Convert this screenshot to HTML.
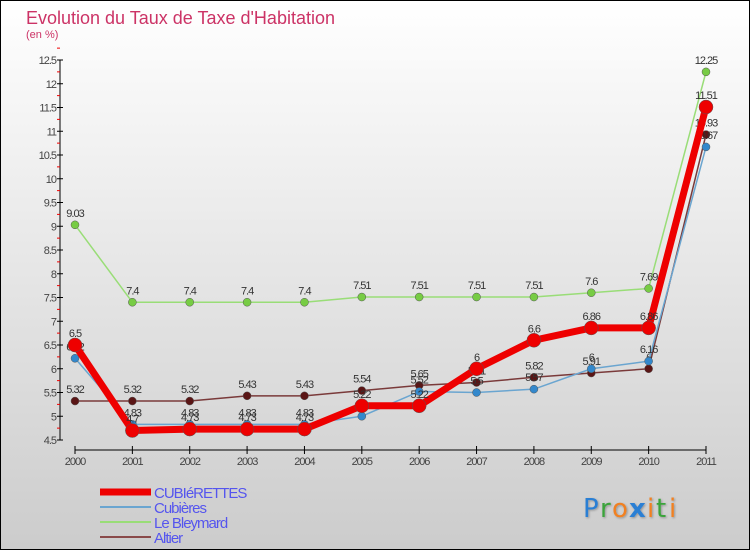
<!DOCTYPE html>
<html><head><meta charset="utf-8"><style>
html,body{margin:0;padding:0}
body{width:750px;height:550px;overflow:hidden;font-family:"Liberation Sans",sans-serif}
</style></head><body>
<svg id="chart" width="750" height="550" xmlns="http://www.w3.org/2000/svg">
<defs><linearGradient id="bg" x1="0" y1="0" x2="0" y2="1"><stop offset="0" stop-color="#ffffff"/><stop offset="1" stop-color="#cccccc"/></linearGradient>
<filter id="sh"><feDropShadow dx="1" dy="1" stdDeviation="1" flood-opacity="0.3"/></filter></defs>
<rect x="0.5" y="0.5" width="749" height="549" fill="url(#bg)" stroke="#000"/>
<text x="26" y="24" font-size="18" fill="#cc3366">Evolution du Taux de Taxe d'Habitation</text>
<text x="26" y="38" font-size="11" fill="#cc3366">(en %)</text>
<g id="axes"></g><g id="series"></g><g id="legend"></g>
<g font-size="26" font-family="DejaVu Sans, sans-serif" filter="url(#sh)">
<text x="583" y="517" fill="#2a7fd4">P</text><text x="600" y="517" fill="#3aa33a">r</text><text x="612" y="517" fill="#f08020">o</text><text x="629" y="517" fill="#2a7fd4" font-weight="bold">x</text><text x="647" y="517" fill="#f08020">i</text><text x="656" y="517" fill="#3aa33a">t</text><text x="669" y="517" fill="#f08020">i</text></g>
</svg>
<script>
const years=["2000","2001","2002","2003","2004","2005","2006","2007","2008","2009","2010","2011"];
const cubierettes=[6.5,4.7,4.73,4.73,4.73,5.22,5.22,6,6.6,6.86,6.86,11.51];
const cubieres=[6.22,4.83,4.83,4.83,4.83,5.0,5.52,5.5,5.57,6,6.16,10.67];
const bleymard=[9.03,7.4,7.4,7.4,7.4,7.51,7.51,7.51,7.51,7.6,7.69,12.25];
const altier=[5.32,5.32,5.32,5.43,5.43,5.54,5.65,5.71,5.82,5.91,6.0,10.93];
const yTicks=["4.5","5","5.5","6","6.5","7","7.5","8","8.5","9","9.5","10","10.5","11","11.5","12","12.5"];
const NS="http://www.w3.org/2000/svg";
const X=i=>75+i*(706-75)/11, Y=v=>440-(v-4.5)*47.5;
function mk(t,a,p){const e=document.createElementNS(NS,t);for(const k in a)e.setAttribute(k,a[k]);p.appendChild(e);return e;}
const ax=document.getElementById('axes');
let yl=mk('line',{x1:60,y1:60,x2:60,y2:440,stroke:'#000'},ax);

yTicks.forEach(t=>{const v=parseFloat(t),y=Y(v);
 mk('line',{x1:57,y1:y,x2:63,y2:y,stroke:'#000'},ax);
 mk('line',{x1:57,y1:Y(v+0.25),x2:60,y2:Y(v+0.25),stroke:'#e00'},ax);
 const tx=mk('text',{x:56,y:y+4,'font-size':11,'text-anchor':'end',fill:'#444','letter-spacing':'-1'},ax);tx.textContent=t;
 });
let xl=mk('line',{x1:75,y1:450,x2:706,y2:450,stroke:'#000'},ax);

years.forEach((yr,i)=>{mk('line',{x1:X(i),y1:446,x2:X(i),y2:454,stroke:'#000'},ax);
 const tx=mk('text',{x:X(i),y:465,'font-size':11,'text-anchor':'middle',fill:'#444','letter-spacing':'-1'},ax);tx.textContent=yr;
 });
const sg=document.getElementById('series');
const defs=[["altier",altier,"#7a3a3a","#5a1515",1.5,4],["le-bleymard",bleymard,"#99dd77","#77cc44",1.5,4],["cubieres",cubieres,"#6aa5d0","#3388cc",1.5,4],["cubierettes",cubierettes,"#ee0000","#ee0000",7,7]];
defs.forEach(([n,d,lc,pc,w,r])=>{const g=mk('g',{},sg);
 
 mk('polyline',{points:d.map((v,i)=>X(i)+','+Y(v)).join(' '),fill:'none',stroke:lc,'stroke-width':w,'stroke-linejoin':'round'},g);
 d.forEach((v,i)=>{const c=mk('circle',{cx:X(i),cy:Y(v),r:r,fill:pc,stroke:'#555','stroke-width':0.5},g);
  
  const t=mk('text',{x:X(i),y:Y(v)-8,'font-size':11,'text-anchor':'middle',fill:'#333','letter-spacing':'-1'},g);t.textContent=String(v);
  });});
const lg=document.getElementById('legend');
[["CUBIéRETTES","#ee0000",7],["Cubières","#6aa5d0",2],["Le Bleymard","#99dd77",2],["Altier","#8a4a4a",2]].forEach(([n,c,w],i)=>{
 const g=mk('g',{},lg);
 const y=492+i*15;mk('line',{x1:100,y1:y,x2:151,y2:y,stroke:c,'stroke-width':w},g);
 const t=mk('text',{x:154,y:y+6,'font-size':15,fill:'#5555ee','letter-spacing':'-1'},g);t.textContent=n;});
</script>
</body></html>
